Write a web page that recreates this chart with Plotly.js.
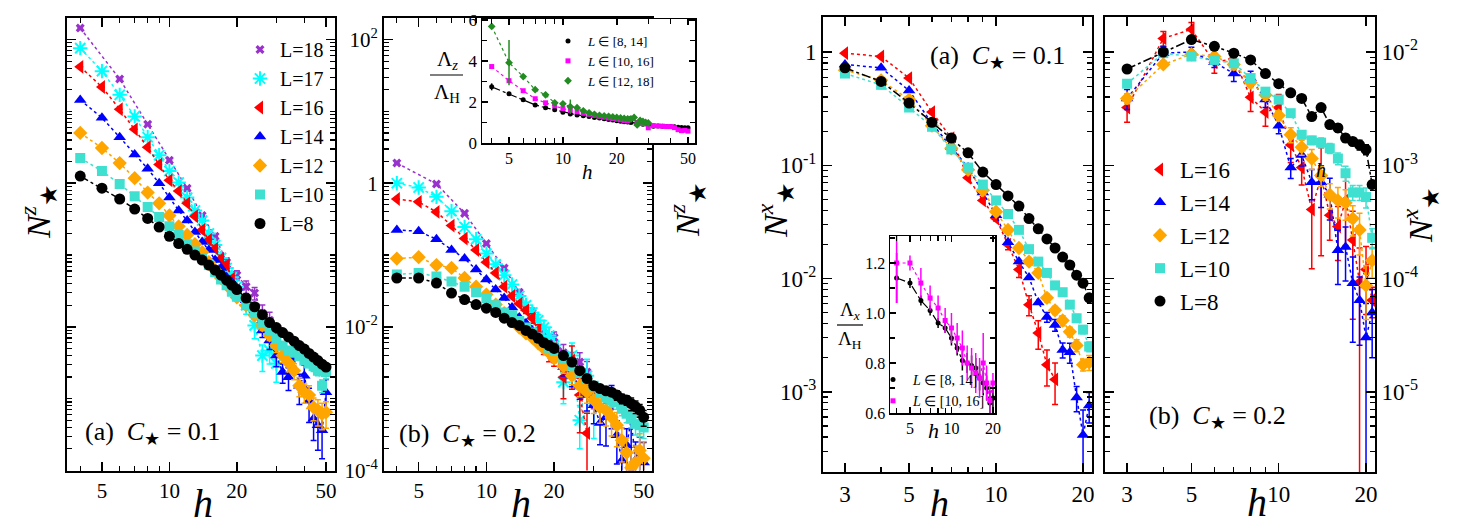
<!DOCTYPE html>
<html>
<head>
<meta charset="utf-8">
<script src="https://cdn.plot.ly/plotly-3.0.1.min.js"></script>
<style>html,body{margin:0;padding:0;background:#fff}</style>
</head>
<body>
<div id="plot" style="width:1477px;height:528px"></div>
<script>
// h values of the different runs
var hStep2 = [4,6,8,10,12,14,16,18,20,22,24,26,28,30];
var hTo30 = [4,5,6,7,8,9,10,11,12,13,14,15,16,17,18,19,20,22,24,26,28,30];
var hTo28 = [4,5,6,7,8,9,10,11,12,13,14,15,16,17,18,19,20,22,24,26,28];
var hTo50 = [4,5,6,7,8,9,10,11,12,13,14,15,16,17,18,19,20,22,24,26,28,30,32,34,36,38,40,42,44,46,48,50];
var hRight = [3,4,5,6,7,8,9,10,11,12,13,14,15,16,17,18,19,20,21];
var hRight16 = [3,4,5,6,7,8,9,10,11,12,13,14,15,16];
var hInsZ = [4,5,6,7,8,9,10,11,12,13,14,15,16,17,18,19,20,21,22,23,24,26,28,30,32,34,36,38,40,42,44,46,48,50];
var hInsZ18 = [4,5,6,7,8,9,10,11,12,13,14,15,16,17,18,19,20,21,22,23,24,25,26,27,28,29,30];
var hInsX = [4,5,6,7,8,9,10,11,12,13,14,15,16,17,18,19,20];

// N^z_star, C=0.1 (log10 of the values)
var zA18 = [2.16,1.45,0.82,0.32,-0.07,-0.45,-0.74,-1.10,-1.28,-1.44,-1.53,-1.81,-1.91,-2.12];
var zA17 = [1.88,1.56,1.23,0.93,0.64,0.39,0.17,0.01,-0.20,-0.38,-0.52,-0.70,-0.86,-1.04,-1.18,-1.31,-1.44,-1.70,-1.98,-2.40,-2.33,-2.51];
var zA16 = [1.62,1.34,1.03,0.75,0.50,0.26,0.04,-0.11,-0.28,-0.46,-0.65,-0.79,-0.91,-1.05,-1.14,-1.33,-1.49,-1.63,-1.80,-1.94,-2.05,-2.15];
var zA14 = [1.16,0.91,0.64,0.40,0.20,0.00,-0.20,-0.38,-0.52,-0.68,-0.82,-0.93,-1.07,-1.18,-1.31,-1.38,-1.46,-1.63,-1.80,-2.05,-2.19,-2.40,-2.63,-2.70,-2.43,-2.82,-2.68,-3.03,-3.28,-3.37,-3.44,-2.91];
var zA12 = [0.70,0.49,0.28,0.07,-0.13,-0.28,-0.45,-0.60,-0.72,-0.85,-0.96,-1.10,-1.21,-1.32,-1.39,-1.49,-1.59,-1.70,-1.84,-1.98,-2.12,-2.26,-2.40,-2.50,-2.61,-2.82,-2.91,-2.95,-3.12,-3.16,-3.21,-3.19];
var zA10 = [0.35,0.17,-0.01,-0.18,-0.33,-0.47,-0.60,-0.72,-0.85,-0.95,-1.05,-1.14,-1.24,-1.34,-1.42,-1.51,-1.58,-1.70,-1.81,-1.94,-2.05,-2.17,-2.26,-2.33,-2.36,-2.41,-2.47,-2.51,-2.55,-2.61,-2.82,-2.63];
var zA8 = [0.10,-0.07,-0.22,-0.36,-0.49,-0.61,-0.74,-0.84,-0.92,-1.00,-1.07,-1.14,-1.21,-1.28,-1.35,-1.42,-1.48,-1.60,-1.72,-1.83,-1.94,-2.01,-2.08,-2.14,-2.20,-2.26,-2.31,-2.37,-2.42,-2.47,-2.52,-2.56];
// relative error bars
var eA18 = [0,0,0,0,0,0,0,0.15,0.15,0.2,0.2,0.3,0.3,0.3];
var eA17 = [0,0,0,0,0,0,0,0,0,0,0,0,0,0.1,0.1,0.15,0.2,0.25,0.35,0.4,0.35,0.45];
var eA16 = [0,0,0,0,0,0,0,0,0,0,0,0,0,0,0.1,0.1,0.15,0.15,0.2,0.2,0.25,0.25];
var eA14 = [0,0,0,0,0,0,0,0,0,0,0,0,0,0,0,0,0,0.1,0.15,0.2,0.25,0.3,0.3,0.35,0.4,0.45,0.4,0.5,0.5,0.55,0.6,0.5];
var eA12 = [0,0,0,0,0,0,0,0,0,0,0,0,0,0,0,0,0,0.1,0.1,0.15,0.15,0.2,0.2,0.25,0.25,0.3,0.3,0.35,0.35,0.4,0.4,0.4];
var eA10 = [0,0,0,0,0,0,0,0,0,0,0,0,0,0,0,0,0,0,0,0,0.05,0.05,0.08,0.08,0.1,0.1,0.12,0.12,0.15,0.15,0.2,0.2];

// N^z_star, C=0.2
var zB18 = [0.28,-0.01,-0.42,-0.84,-1.18,-1.52,-1.80,-2.09,-2.15,-2.36,-2.47,-2.49,-2.63,-2.92];
var zB17 = [0.00,-0.06,-0.19,-0.39,-0.61,-0.78,-0.98,-1.13,-1.28,-1.41,-1.57,-1.70,-1.80,-1.91,-2.01,-2.12,-2.26,-2.77,-2.40,-3.30,-2.68,-3.03];
var zB16 = [-0.22,-0.26,-0.40,-0.59,-0.77,-0.93,-1.10,-1.25,-1.44,-1.57,-1.68,-1.77,-1.88,-2.05,-2.26,-2.33,-2.36,-2.70,-2.47,-2.95,-3.48];
var zB14 = [-0.65,-0.67,-0.78,-0.93,-1.05,-1.20,-1.34,-1.48,-1.60,-1.73,-1.87,-1.95,-2.05,-2.15,-2.23,-2.33,-2.40,-2.56,-2.68,-2.82,-2.95,-3.09,-3.34,-3.26,-3.02,-3.51,-3.86,-3.65,-3.30,-3.86,-3.79,-3.89];
var zB12 = [-1.05,-1.03,-1.14,-1.18,-1.32,-1.44,-1.55,-1.69,-1.81,-1.91,-2.01,-2.09,-2.15,-2.23,-2.30,-2.36,-2.44,-2.55,-2.68,-2.82,-2.91,-3.02,-3.12,-3.16,-3.26,-3.37,-3.58,-3.75,-3.96,-3.89,-3.72,-3.83];
var zB10 = [-1.27,-1.25,-1.30,-1.37,-1.44,-1.52,-1.60,-1.70,-1.80,-1.84,-1.92,-2.01,-2.08,-2.15,-2.22,-2.29,-2.33,-2.44,-2.54,-2.63,-2.72,-2.82,-2.91,-2.98,-3.02,-3.05,-3.14,-3.21,-3.28,-3.35,-3.37,-3.40];
var zB8 = [-1.32,-1.32,-1.39,-1.53,-1.62,-1.69,-1.74,-1.80,-1.88,-1.94,-1.98,-2.05,-2.10,-2.16,-2.22,-2.26,-2.30,-2.40,-2.49,-2.61,-2.72,-2.82,-2.86,-2.89,-2.91,-2.95,-3.00,-3.02,-3.07,-3.11,-3.16,-3.26];
var eB18 = [0,0,0,0,0,0.1,0.15,0.2,0.2,0.3,0.3,0.35,0.4,0.4];
var eB17 = [0,0,0,0,0,0,0,0,0,0,0,0.1,0.15,0.2,0.25,0.3,0.3,0.5,0.5,0.6,0.7,0.7];
var eB16 = [0,0,0,0,0,0,0,0,0,0,0,0.1,0.15,0.2,0.25,0.3,0.35,0.5,0.6,0.7,0.9];
var eB14 = [0,0,0,0,0,0,0,0,0,0,0,0,0,0,0.1,0.15,0.2,0.25,0.3,0.35,0.4,0.45,0.5,0.6,0.6,0.6,0.7,0.7,0.8,0.8,0.8,0.9];
var eB12 = [0,0,0,0,0,0,0,0,0,0,0,0,0,0,0,0,0,0.2,0.25,0.3,0.3,0.35,0.4,0.4,0.45,0.5,0.5,0.6,0.6,0.7,0.7,0.7];
var eB10 = [0,0,0,0,0,0,0,0,0,0,0,0,0,0,0,0,0,0,0,0,0.1,0.1,0.15,0.15,0.2,0.2,0.2,0.25,0.25,0.3,0.3,0.3];
var eB8 = [0,0,0,0,0,0,0,0,0,0,0,0,0,0,0,0,0,0,0,0,0,0,0.1,0.1,0.1,0.15,0.15,0.15,0.2,0.2,0.2,0.25];

// inset: Lambda_z / Lambda_H
var insZ8 = [2.74,2.40,2.11,1.86,1.72,1.62,1.50,1.42,1.37,1.33,1.29,1.25,1.22,1.18,1.15,1.12,1.09,1.06,1.04,1.02,1.00,0.97,0.92,0.88,0.82,0.83,0.82,0.81,0.80,0.79,0.77,0.76,0.75,0.74];
var insZ10 = [3.73,3.04,2.55,2.16,1.96,1.81,1.68,1.60,1.52,1.45,1.40,1.35,1.30,1.26,1.22,1.19,1.16,1.13,1.10,1.08,1.20,1.00,0.95,0.74,0.85,0.83,0.82,0.80,0.80,0.75,0.65,0.60,0.62,0.58];
var insZ12 = [5.69,3.92,3.24,2.60,2.35,1.96,1.91,1.77,1.72,1.57,1.47,1.40,1.35,1.32,1.30,1.27,1.25,1.22,1.20,1.18,1.17,1.25,0.88,1.10,1.05,1.00,0.98];
var insZ8err = [0.17,0,0,0,0,0,0,0,0,0,0,0,0,0,0,0,0,0,0,0,0,0,0,0,0,0,0,0,0,0,0,0,0,0];
var insZ12err = [0,1.1,0,0,0,0,0,0.35,0,0,0,0,0,0,0,0,0,0,0,0,0,0.1,0.1,0,0.08,0,0];

// N^x_star, C=0.1
var xA16 = [-0.01,-0.04,-0.23,-0.53,-0.76,-1.11,-1.31,-1.47,-1.70,-1.92,-2.23,-2.48,-2.76,-2.89];
var xA14 = [-0.11,-0.14,-0.34,-0.63,-0.84,-1.02,-1.24,-1.44,-1.68,-1.85,-1.99,-2.21,-2.34,-2.41,-2.63,-2.65,-3.05,-3.38,-3.12];
var xA12 = [-0.16,-0.25,-0.42,-0.65,-0.85,-1.04,-1.22,-1.41,-1.57,-1.73,-1.85,-1.95,-2.17,-2.28,-2.37,-2.47,-2.59,-2.76,-2.74];
var xA10 = [-0.19,-0.29,-0.49,-0.66,-0.86,-1.02,-1.17,-1.31,-1.43,-1.57,-1.74,-1.85,-1.95,-2.06,-2.12,-2.23,-2.35,-2.45,-2.60];
var xA8 = [-0.14,-0.26,-0.45,-0.62,-0.76,-0.89,-1.06,-1.17,-1.27,-1.36,-1.47,-1.56,-1.65,-1.73,-1.81,-1.88,-1.97,-2.04,-2.17];
var exA16 = [0,0,0,0,0,0,0,0.05,0.1,0.15,0.2,0.28,0.35,0.4];
var exA14 = [0,0,0,0,0,0,0,0,0,0,0,0,0.1,0.12,0.15,0.2,0.25,0.66,0.3];
var exA12 = [0,0,0,0,0,0,0,0,0,0,0,0,0.08,0.08,0.1,0.1,0.12,0.12,0.15];
var exA10 = [0,0,0,0,0,0,0,0,0,0,0,0,0,0,0.05,0.05,0.08,0.08,0.1];

// N^x_star, C=0.2
var xB16 = [-2.49,-1.88,-1.80,-2.09,-2.06,-2.40,-2.53,-2.49,-2.82,-3.02,-3.39,-3.10,-3.44,-3.54,-3.31,-3.66,-4.03,-3.92,-4.19];
var xB14 = [-2.41,-2.01,-2.00,-2.09,-2.19,-2.23,-2.42,-2.65,-3.02,-2.91,-3.15,-3.15,-3.26,-3.75,-3.72,-4.04,-4.19,-4.52,-4.30];
var xB12 = [-2.41,-2.11,-2.02,-2.04,-2.11,-2.27,-2.38,-2.56,-2.73,-2.84,-2.94,-3.09,-3.26,-3.31,-3.33,-3.47,-3.57,-4.06,-3.84];
var xB10 = [-2.28,-2.01,-2.04,-2.07,-2.10,-2.23,-2.35,-2.42,-2.54,-2.73,-2.78,-2.80,-2.85,-2.94,-3.07,-3.24,-3.24,-3.28,-3.64];
var xB8 = [-2.15,-2.00,-1.89,-1.95,-2.01,-2.07,-2.19,-2.28,-2.36,-2.41,-2.57,-2.49,-2.64,-2.67,-2.76,-2.79,-2.82,-2.86,-3.17];
var exB16 = [0.26,0.15,0.15,0.2,0.2,0.25,0.25,0.3,0.3,0.3,0.7,0.8,0.4,0.5,0.6,0.8,1.0,0.6,0.3];
var exB14 = [0.2,0.15,0.1,0.1,0.15,0.15,0.15,0.15,0.2,0.2,0.3,0.4,0.4,0.5,0.5,0.7,0.6,1.0,0.6];
var exB12 = [0.1,0.05,0.05,0.05,0.1,0.1,0.1,0.1,0.15,0.15,0.2,0.2,0.25,0.3,0.3,0.3,0.4,0.5,0.3];
var exB10 = [0,0,0,0,0,0,0,0.05,0.05,0.08,0.08,0.1,0.1,0.12,0.15,0.15,0.15,0.2,0.2];
var exB8 = [0,0,0,0,0,0,0,0,0,0.05,0.05,0.05,0.08,0.08,0.08,0.08,0.1,0.1,0];

// inset: Lambda_x / Lambda_H
var insX8 = [1.14,1.12,1.05,1.01,0.96,0.94,0.90,0.86,0.81,0.80,0.79,0.78,0.74,0.72,0.70,0.64,0.66];
var insX10 = [1.20,1.20,1.12,1.06,1.02,0.97,0.94,0.90,0.86,0.80,0.78,0.76,0.74,0.80,0.72,0.65,0.72];
var insX8err = [0.1,0.02,0.02,0.02,0.02,0.02,0.03,0.03,0.04,0.04,0.04,0.04,0.05,0.05,0.05,0.05,0.04];
var insX10err = [0.16,0.03,0.06,0.05,0.05,0.05,0.06,0.06,0.07,0.07,0.08,0.08,0.08,0.12,0.07,0.06,0.04];

var F = '"Liberation Serif", "Times New Roman", Times, serif';
var W = 1477, H = 528;

var S18 = {color:'#9932CC', symbol:'x', size:8, dash:'dot'};
var S17 = {color:'#00FFFF', symbol:'asterisk-open', size:12, lw:2, dash:'dot'};
var S16 = {color:'#FF0000', symbol:'triangle-left', size:12, dash:'dot'};
var S14 = {color:'#0000FF', symbol:'triangle-up', size:11, dash:'dot'};
var S12 = {color:'#FFA500', symbol:'diamond', size:11, dash:'dot'};
var S10 = {color:'#40E0D0', symbol:'square', size:10, dash:'dot'};
var S8 = {color:'#000000', symbol:'circle', size:11, dash:'dashdot'};

var traces = [];

function addSeries(h, vals, isLog, err, errAbs, s, xa, ya, lg, name) {
  var y = isLog ? vals.map(function (v) { return Math.pow(10, v); }) : vals;
  traces.push({x: h, y: y, xaxis: xa, yaxis: ya, mode: 'lines', showlegend: false,
    line: {color: s.color, dash: s.dash, width: s.lwl || 1.5}, hoverinfo: 'skip'});
  var tr = {x: h, y: y, xaxis: xa, yaxis: ya, mode: 'markers', name: name,
    marker: {symbol: s.symbol, size: s.size, color: s.color, line: {color: s.color, width: s.lw || 0}},
    showlegend: !!lg};
  if (lg) tr.legend = lg;
  if (err) {
    var arr = errAbs ? err : y.map(function (v, i) { return v * err[i]; });
    tr.error_y = {type: 'data', array: arr, color: s.color, thickness: 1.5, width: s.cap === undefined ? 3 : s.cap};
  }
  traces.push(tr);
}

// left figure, panel (a)
addSeries(hStep2, zA18, true, eA18, false, S18, 'x', 'y', 'legend', 'L=18');
addSeries(hTo30, zA17, true, eA17, false, S17, 'x', 'y', 'legend', 'L=17');
addSeries(hTo30, zA16, true, eA16, false, S16, 'x', 'y', 'legend', 'L=16');
addSeries(hTo50, zA14, true, eA14, false, S14, 'x', 'y', 'legend', 'L=14');
addSeries(hTo50, zA12, true, eA12, false, S12, 'x', 'y', 'legend', 'L=12');
addSeries(hTo50, zA10, true, eA10, false, S10, 'x', 'y', 'legend', 'L=10');
addSeries(hTo50, zA8, true, null, false, S8, 'x', 'y', 'legend', 'L=8');
// left figure, panel (b)
addSeries(hStep2, zB18, true, eB18, false, S18, 'x2', 'y2', null, 'L=18');
addSeries(hTo30, zB17, true, eB17, false, S17, 'x2', 'y2', null, 'L=17');
addSeries(hTo28, zB16, true, eB16, false, S16, 'x2', 'y2', null, 'L=16');
addSeries(hTo50, zB14, true, eB14, false, S14, 'x2', 'y2', null, 'L=14');
addSeries(hTo50, zB12, true, eB12, false, S12, 'x2', 'y2', null, 'L=12');
addSeries(hTo50, zB10, true, eB10, false, S10, 'x2', 'y2', null, 'L=10');
addSeries(hTo50, zB8, true, eB8, false, S8, 'x2', 'y2', null, 'L=8');
// left inset
var SI8 = {color:'#000000', symbol:'circle', size:5, dash:'dashdot', lwl:1.2, cap:0};
var SI10 = {color:'#FF00FF', symbol:'square', size:5, dash:'dot', lwl:1.2, cap:0};
var SI12 = {color:'#228B22', symbol:'diamond', size:6, dash:'dot', lwl:1.2, cap:0};
addSeries(hInsZ, insZ8, false, insZ8err, true, SI8, 'x3', 'y3', 'legend2', '<i>L</i> ∈ [8, 14]');
addSeries(hInsZ, insZ10, false, null, true, SI10, 'x3', 'y3', 'legend2', '<i>L</i> ∈ [10, 16]');
addSeries(hInsZ18, insZ12, false, insZ12err, true, SI12, 'x3', 'y3', 'legend2', '<i>L</i> ∈ [12, 18]');
// right figure, panel (a)
addSeries(hRight16, xA16, true, exA16, false, S16, 'x4', 'y4', null, 'L=16');
addSeries(hRight, xA14, true, exA14, false, S14, 'x4', 'y4', null, 'L=14');
addSeries(hRight, xA12, true, exA12, false, S12, 'x4', 'y4', null, 'L=12');
addSeries(hRight, xA10, true, exA10, false, S10, 'x4', 'y4', null, 'L=10');
addSeries(hRight, xA8, true, null, false, S8, 'x4', 'y4', null, 'L=8');
// right figure, panel (b)
addSeries(hRight, xB16, true, exB16, false, S16, 'x5', 'y5', 'legend3', 'L=16');
addSeries(hRight, xB14, true, exB14, false, S14, 'x5', 'y5', 'legend3', 'L=14');
addSeries(hRight, xB12, true, exB12, false, S12, 'x5', 'y5', 'legend3', 'L=12');
addSeries(hRight, xB10, true, exB10, false, S10, 'x5', 'y5', 'legend3', 'L=10');
addSeries(hRight, xB8, true, exB8, false, S8, 'x5', 'y5', 'legend3', 'L=8');
// right inset
addSeries(hInsX, insX8, false, insX8err, true, SI8, 'x6', 'y6', 'legend4', '<i>L</i> ∈ [8, 14]');
addSeries(hInsX, insX10, false, insX10err, true, SI10, 'x6', 'y6', 'legend4', '<i>L</i> ∈ [10, 16]');

function minorLog(d0, d1, extra) {
  var out = extra ? extra.slice() : [];
  for (var d = d0; d <= d1; d++) for (var k = 2; k <= 9; k++) out.push(k * Math.pow(10, d));
  return out;
}
function dx(a, b) { return [a / W, b / W]; }
function dy(top, bottom) { return [1 - bottom / H, 1 - top / H]; }

function ax(o, fs) {
  var base = {showline: true, linewidth: 2, linecolor: 'black', mirror: 'allticks', ticks: 'inside',
    ticklen: 9, tickwidth: 1.5, tickcolor: 'black', showgrid: false, zeroline: false, tickmode: 'array',
    tickfont: {family: F, size: fs, color: 'black'}};
  for (var k in o) base[k] = o[k];
  if (base.minorvals) {
    base.minor = {tickmode: 'array', tickvals: base.minorvals, ticks: 'inside', ticklen: 5, tickwidth: 1.2, tickcolor: 'black', showgrid: false};
    delete base.minorvals;
  }
  return base;
}

var leftYvals = [1e-4, 1e-2, 1, 1e2];
var leftYtext = ['10<sup>-4</sup>', '10<sup>-2</sup>', '1', '10<sup>2</sup>'];
var leftYminor = minorLog(-4, 1, [1e-3, 0.1, 10]);

var layout = {
  width: W, height: H, autosize: false,
  margin: {l: 0, r: 0, t: 0, b: 0},
  paper_bgcolor: 'white', plot_bgcolor: 'white',
  font: {family: F, color: 'black'},
  xaxis: ax({type: 'log', domain: dx(67, 335), range: [0.543, 1.739], anchor: 'y',
    tickvals: [5, 10, 20, 50], ticktext: ['5', '10', '20', '50'], minorvals: [4, 6, 7, 8, 9, 30, 40]}, 21),
  yaxis: ax({type: 'log', domain: dy(18, 470.5), range: [-4, 2.3], anchor: 'x',
    tickvals: leftYvals, ticktext: leftYtext, showticklabels: false, minorvals: leftYminor}, 21),
  xaxis2: ax({type: 'log', domain: dx(384, 652), range: [0.545, 1.736], anchor: 'y2',
    tickvals: [5, 10, 20, 50], ticktext: ['5', '10', '20', '50'], minorvals: [4, 6, 7, 8, 9, 30, 40]}, 21),
  yaxis2: ax({type: 'log', domain: dy(18, 470.5), range: [-4, 2.3], anchor: 'x2',
    tickvals: leftYvals, ticktext: leftYtext, minorvals: leftYminor}, 21),
  xaxis3: ax({type: 'log', domain: dx(482, 695), range: [0.548, 1.738], anchor: 'y3',
    tickvals: [5, 10, 20, 50], ticktext: ['5', '10', '20', '50'], minorvals: [4, 6, 7, 8, 9, 30, 40], ticklen: 6, linewidth: 1.5}, 16),
  yaxis3: ax({domain: dy(19, 143), range: [0, 6.05], anchor: 'x3',
    tickvals: [0, 2, 4, 6], ticktext: ['0', '2', '4', '6'], minorvals: [1, 3, 5], ticklen: 6, linewidth: 1.5}, 17),
  xaxis4: ax({type: 'log', domain: dx(823, 1092), range: [0.401, 1.332], anchor: 'y4',
    tickvals: [3, 5, 10, 20], ticktext: ['3', '5', '10', '20'], minorvals: [4, 6, 7, 8, 9]}, 23),
  yaxis4: ax({type: 'log', domain: dy(17, 472), range: [-3.707, 0.309], anchor: 'x4',
    tickvals: [1e-3, 1e-2, 0.1, 1], ticktext: ['10<sup>-3</sup>', '10<sup>-2</sup>', '10<sup>-1</sup>', '1'], minorvals: minorLog(-4, 0)}, 23),
  xaxis5: ax({type: 'log', domain: dx(1105, 1375), range: [0.401, 1.332], anchor: 'y5',
    tickvals: [3, 5, 10, 20], ticktext: ['3', '5', '10', '20'], minorvals: [4, 6, 7, 8, 9]}, 23),
  yaxis5: ax({type: 'log', domain: dy(17, 472), range: [-5.707, -1.691], anchor: 'x5', side: 'right',
    tickvals: [1e-5, 1e-4, 1e-3, 1e-2], ticktext: ['10<sup>-5</sup>', '10<sup>-4</sup>', '10<sup>-3</sup>', '10<sup>-2</sup>'], minorvals: minorLog(-6, -2)}, 23),
  xaxis6: ax({type: 'log', domain: dx(890, 995), range: [0.554, 1.316], anchor: 'y6',
    tickvals: [5, 10, 20], ticktext: ['5', '10', '20'], minorvals: [4, 6, 7, 8, 9], ticklen: 6, linewidth: 1.5}, 16),
  yaxis6: ax({domain: dy(236, 413), range: [0.6, 1.308], anchor: 'x6',
    tickvals: [0.6, 0.8, 1.0, 1.2], ticktext: ['0.6', '0.8', '1.0', '1.2'], minorvals: [0.7, 0.9, 1.1, 1.3], ticklen: 6, linewidth: 1.5}, 16),
  legend: {x: 240 / W, y: 1 - 30 / H, xanchor: 'left', yanchor: 'top', bgcolor: 'rgba(0,0,0,0)',
    font: {family: F, size: 20}, itemsizing: 'trace', traceorder: 'normal'},
  legend2: {x: 548 / W, y: 1 - 26 / H, xanchor: 'left', yanchor: 'top', bgcolor: 'rgba(0,0,0,0)',
    font: {family: F, size: 13}, itemsizing: 'trace', traceorder: 'normal'},
  legend3: {x: 1140 / W, y: 1 - 148 / H, xanchor: 'left', yanchor: 'top', bgcolor: 'rgba(0,0,0,0)',
    font: {family: F, size: 23}, itemsizing: 'trace', traceorder: 'normal'},
  legend4: {x: 873 / W, y: 1 - 364 / H, xanchor: 'left', yanchor: 'top', bgcolor: 'rgba(0,0,0,0)',
    font: {family: F, size: 14}, itemsizing: 'trace', traceorder: 'normal'},
  shapes: [
    {type: 'line', xref: 'x3 domain', x0: 0, x1: 1, yref: 'y3', y0: 1, y1: 1, line: {color: '#c8c8c8', width: 2}, layer: 'below'},
    {type: 'line', xref: 'x6 domain', x0: 0, x1: 1, yref: 'y6', y0: 1, y1: 1, line: {color: '#c8c8c8', width: 2}, layer: 'below'},
    {type: 'line', xref: 'paper', yref: 'paper', x0: 430 / W, x1: 463 / W, y0: 1 - 75 / H, y1: 1 - 75 / H, line: {color: 'black', width: 1.2}},
    {type: 'line', xref: 'paper', yref: 'paper', x0: 837 / W, x1: 863 / W, y0: 1 - 325 / H, y1: 1 - 325 / H, line: {color: 'black', width: 1.2}}
  ],
  annotations: []
};

function note(px, py, text, size, extra) {
  var a = {xref: 'paper', yref: 'paper', x: px / W, y: 1 - py / H, text: text, showarrow: false,
    font: {family: F, size: size, color: 'black'}, xanchor: 'center', yanchor: 'middle'};
  if (extra) for (var k in extra) a[k] = extra[k];
  layout.annotations.push(a);
}
var Nz = '<i>N</i><sup><i>z</i></sup><sub>★</sub>';
var Nx = '<i>N</i><sup><i>x</i></sup><sub>★</sub>';
note(38, 212, Nz, 34, {textangle: -90});
note(687, 210, Nz, 34, {textangle: -90});
note(775, 210, Nx, 34, {textangle: -90});
note(1420, 215, Nx, 34, {textangle: -90});
note(203, 503, '<i>h</i>', 40);
note(521, 503, '<i>h</i>', 40);
note(939, 503, '<i>h</i>', 38);
note(1257, 502, '<i>h</i>', 40);
note(83, 433, '(a)  <i>C</i><sub>★</sub> = 0.1', 26, {xanchor: 'left'});
note(397, 435, '(b)  <i>C</i><sub>★</sub> = 0.2', 26, {xanchor: 'left'});
note(928, 57, '(a)  <i>C</i><sub>★</sub> = 0.1', 26, {xanchor: 'left'});
note(1147, 417, '(b)  <i>C</i><sub>★</sub> = 0.2', 26, {xanchor: 'left'});
note(447, 60, 'Λ<sub><i>z</i></sub>', 21);
note(447, 93, 'Λ<sub>H</sub>', 21);
note(587, 172, '<i>h</i>', 21);
note(850, 311, 'Λ<sub><i>x</i></sub>', 19);
note(850, 340, 'Λ<sub>H</sub>', 19);
note(933, 430, '<i>h</i>', 22);
note(1321, 170, '<i>h</i>', 20);

Plotly.newPlot('plot', traces, layout, {staticPlot: true, displayModeBar: false});
</script>
</body>
</html>
